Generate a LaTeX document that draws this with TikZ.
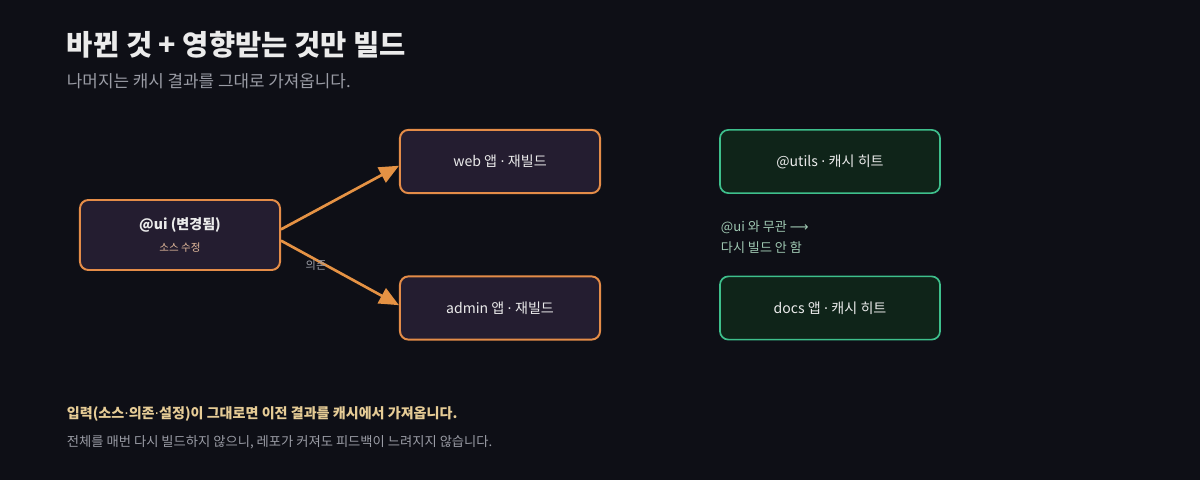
\documentclass[tikz,border=0pt]{standalone}
\usepackage{fontspec}
\setmainfont{Noto Sans CJK KR}
\newfontfamily\symfont{DejaVu Sans}
\usepackage{tikz}
\usetikzlibrary{arrows.meta, positioning}
\definecolor{bgdark}{HTML}{0E0F16}
\definecolor{changed}{HTML}{E48C48}
\definecolor{changedfill}{HTML}{241D30}
\definecolor{cached}{HTML}{3EBF8C}
\definecolor{cachedfill}{HTML}{0F2419}
\definecolor{muted}{HTML}{9A9CA5}
\definecolor{tan}{HTML}{E6CC96}
\definecolor{notegreen}{HTML}{9FC8B2}
\newcommand{\mdot}{{\symfont\mdseries ·}}

\begin{document}
\begin{tikzpicture}[
    x=0.025cm, y=-0.025cm,
    every node/.style={font=\fontsize{10}{12}\selectfont, color=white!92!black},
    rebuild/.style={rectangle, draw=changed, fill=changedfill, rounded corners=6pt,
                    minimum width=5cm, minimum height=1.58cm, line width=1.4pt},
    hit/.style={rectangle, draw=cached, fill=cachedfill, rounded corners=6pt,
                minimum width=5.5cm, minimum height=1.58cm, line width=1.2pt},
    arrow/.style={-{Triangle[length=14pt, width=12pt]}, line width=1.9pt,
                  color=changed!95!yellow},
    label/.style={font=\fontsize{8}{10}\selectfont, color=muted}
]
\fill[bgdark] (0,0) rectangle (1200,480);
\useasboundingbox (0,0) rectangle (1200,480);

% Heading
\node[anchor=west, font=\fontsize{20.3}{24}\selectfont\bfseries] (title) at (62,45)
    {바뀐 것 + 영향받는 것만 빌드};
\node[anchor=west, font=\fontsize{12}{15}\selectfont, color=muted] (subtitle) at (62,81)
    {나머지는 캐시 결과를 그대로 가져옵니다.};

% Changed package and its dependents
\node[rebuild, minimum height=1.75cm, align=center] (ui) at (180,235)
    {\textbf{@ui (변경됨)}\\[4pt]{\fontsize{7.5}{9}\selectfont\color{changed!55!white!85!muted}소스 수정}};
\node[rebuild] (web) at (500,161.5) {web 앱 \mdot{} 재빌드};
\node[rebuild] (admin) at (500,308) {admin 앱 \mdot{} 재빌드};

\draw[arrow] ([yshift=4pt]ui.east)  -- ([yshift=-3pt]web.west);
\draw[arrow] ([yshift=-4pt]ui.east) -- ([yshift=2pt]admin.west);
\node[label] (dep) at (316,265) {의존};

% Unaffected packages
\node[hit] (utils) at (830,161.5) {@utils \mdot{} 캐시 히트};
\node[hit] (docs) at (830,308) {docs 앱 \mdot{} 캐시 히트};
\node[anchor=north west, align=left, color=notegreen,
      font=\fontsize{9.3}{15}\selectfont] (note) at (716,216)
    {@ui 와 무관 {\symfont ⟶}\\다시 빌드 안 함};

% Footer
\node[anchor=west, color=tan, font=\fontsize{10}{12}\selectfont\bfseries] (sum) at (62,414)
    {입력(소스\mdot 의존\mdot 설정)이 그대로면 이전 결과를 캐시에서 가져옵니다.};
\node[anchor=west, color=muted, font=\fontsize{9.45}{12}\selectfont] (detail) at (62,442)
    {전체를 매번 다시 빌드하지 않으니, 레포가 커져도 피드백이 느려지지 않습니다.};

\end{tikzpicture}
\end{document}
